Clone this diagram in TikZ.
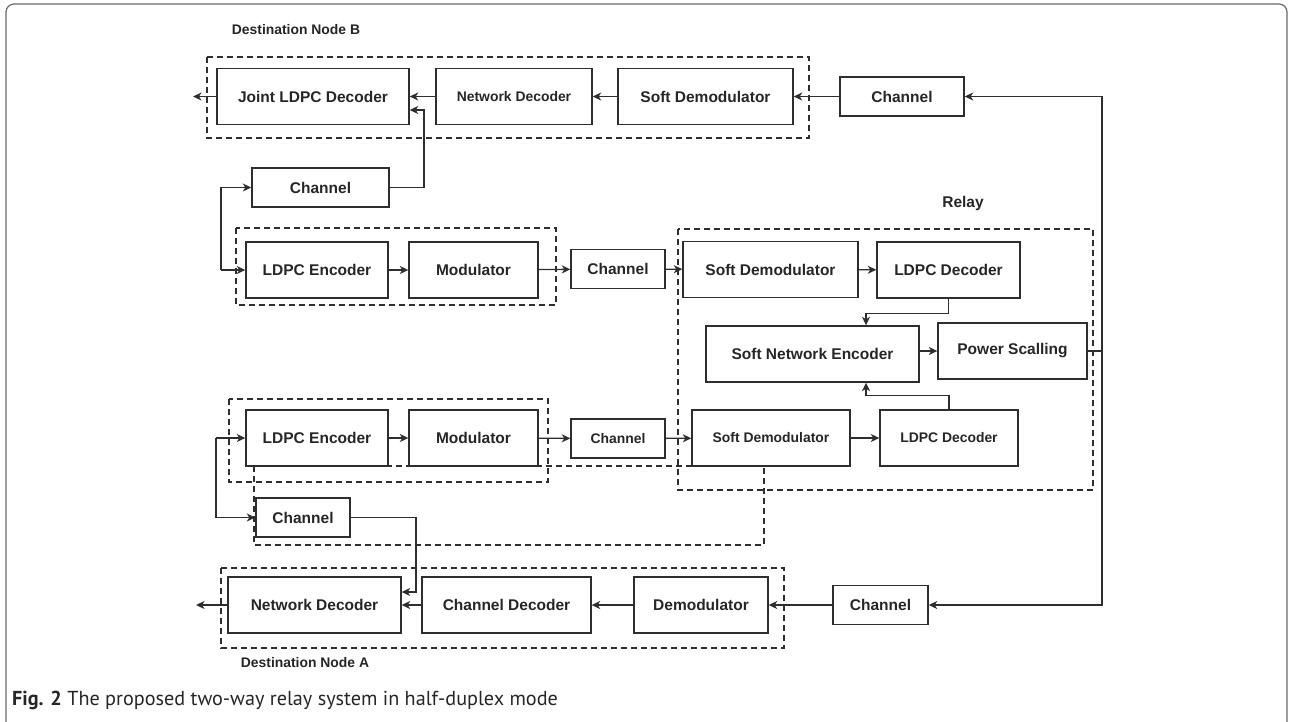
\documentclass[tikz,border=0pt]{standalone}
\usepackage{fontspec}
\setmainfont{Liberation Sans}
\newfontfamily\capfont{PT Sans}
\usetikzlibrary{arrows.meta}
\definecolor{linec}{HTML}{2E2E2E}
\definecolor{txtc}{HTML}{262626}
\definecolor{framec}{HTML}{6A6A6A}
\newcommand\boxfont{\fontsize{15.5}{18}\selectfont\bfseries}
\newcommand\smallboxfont{\fontsize{13.9}{16}\selectfont\bfseries}

\begin{document}
\begin{tikzpicture}[x=1pt,y=-1pt,
    >={Stealth[length=8.5pt,width=8pt,inset=2.5pt]},
    blk/.style={draw=linec,line width=1.4pt,inner sep=0pt,minimum height=56pt,font=\boxfont,text=txtc},
    chn/.style={blk,minimum height=39pt},
    grp/.style={draw=linec,line width=1.2pt,dash pattern=on 6pt off 4pt},
    lbl/.style={font=\smallboxfont,text=txtc,inner sep=0pt},
    wire/.style={draw=linec,line width=1.3pt}]
        \useasboundingbox (0,0) rectangle (1292,721);

        % Outer frame
        \draw[framec,line width=1.2pt,rounded corners=8pt] (6,760) -- (6,4) -- (1287,4) -- (1287,760);

        % Destination node B
        \node[lbl] (labB) at (296,30) {Destination Node B};
        \node[blk,minimum width=192pt] (jld) at (313,96.5) {Joint LDPC Decoder};
        \node[blk,minimum width=156pt,font=\smallboxfont] (ndB) at (514,96.5) {Network Decoder};
        \node[blk,minimum width=175pt] (sdB) at (705.5,96.5) {Soft Demodulator};
        \node[chn,minimum width=124pt] (chB) at (902,96.5) {Channel};
        \draw[grp] (207,57) rectangle (809,138);
        \coordinate (outB) at (193,96.5);
        \draw[wire,->] (chB) -- (sdB);
        \draw[wire,->] (sdB) -- (ndB);
        \draw[wire,->] (ndB) -- (jld);
        \draw[wire,->] (jld) -- (outB);

        % Channel towards node B
        \node[chn,minimum width=137pt] (chS) at (320.5,187.5) {Channel};
        \coordinate (kB) at (424,110);
        \draw[wire,->] (chS.east) -| (kB) -- (kB -| jld.east);

        % Upper source
        \node[blk,minimum width=142pt] (encU) at (317,270) {LDPC Encoder};
        \node[blk,minimum width=129pt] (modU) at (473.5,270) {Modulator};
        \node[chn,minimum width=94pt] (chU) at (618,269) {Channel};
        \draw[grp] (236,228) rectangle (556,305);
        \coordinate (srcU) at (221,270);
        \draw[wire,->] (srcU) |- (chS.west);
        \draw[wire,->] (srcU) -- (encU.west);
        \draw[wire,->] (encU) -- (modU);
        \draw[wire,->] (modU) -- (chU);

        % Relay
        \node[lbl,font=\boxfont] (labR) at (963,203) {Relay};
        \node[blk,minimum width=175pt] (sdR1) at (770.5,269.5) {Soft Demodulator};
        \node[blk,minimum width=143pt] (ldR1) at (948.5,270) {LDPC Decoder};
        \node[blk,minimum width=213pt] (sne) at (812.5,354) {Soft Network Encoder};
        \node[blk,minimum width=149pt] (ps) at (1012.5,351) {Power Scalling};
        \node[blk,minimum width=158pt,font=\smallboxfont] (sdR2) at (771,438) {Soft Demodulator};
        \node[blk,minimum width=138pt,font=\smallboxfont] (ldR2) at (949,438) {LDPC Decoder};
        \draw[grp] (678,229) rectangle (1093,490);
        \draw[wire,->] (chU) -- (sdR1);
        \draw[wire,->] (sdR1) -- (ldR1);
        \draw[wire,->] (ldR1.south) -- ++(0,15) -| ([xshift=53.5pt]sne.north);
        \draw[wire,->] (ldR2.north) -- ++(0,-14) -| ([xshift=53.5pt]sne.south);
        \draw[wire,->] (sne.east |- ps.west) -- (ps.west);
        \draw[wire,->] (sdR2) -- (ldR2);

        % Relay output to both channels
        \coordinate (bus) at (1102,351);
        \draw[wire] (ps.east) -- (bus);
        \draw[wire,->] (bus) |- (chB.east);

        % Lower source
        \node[blk,minimum width=142pt] (encL) at (317,438) {LDPC Encoder};
        \node[blk,minimum width=129pt] (modL) at (473.5,438) {Modulator};
        \node[chn,minimum width=94pt,font=\smallboxfont] (chL) at (618,438.5) {Channel};
        \node[chn,minimum width=94pt] (chS2) at (303,517.5) {Channel};
        \draw[grp] (229,399) rectangle (548,482);
        \draw[grp] (254,466) rectangle (764,545);
        \coordinate (srcL) at (216,438);
        \draw[wire,->] (srcL) -- (encL.west);
        \draw[wire,->] (srcL) |- (chS2.west);
        \draw[wire,->] (encL) -- (modL);
        \draw[wire,->] (modL) -- (chL);
        \draw[wire,->] (chL) -- (sdR2);

        % Destination node A
        \node[blk,minimum width=173pt] (ndA) at (314.5,605) {Network Decoder};
        \node[blk,minimum width=169pt] (cdA) at (506.5,605) {Channel Decoder};
        \node[blk,minimum width=134pt] (dmA) at (701,605) {Demodulator};
        \node[chn,minimum width=95pt] (chA) at (880.5,605) {Channel};
        \node[lbl] (labA) at (305,663) {Destination Node A};
        \draw[grp] (221,568) rectangle (784,648);
        \coordinate (outA) at (196,605);
        \coordinate (kA) at (416,592);
        \draw[wire,->] (bus) |- (chA.east);
        \draw[wire,->] (chA) -- (dmA);
        \draw[wire,->] (dmA) -- (cdA);
        \draw[wire,->] (cdA) -- (ndA);
        \draw[wire,->] (ndA) -- (outA);
        \draw[wire,->] (chS2.east) -| (kA) -- (kA -| ndA.east);

        % Caption
        \node[anchor=base west,inner sep=0pt,font=\capfont\fontsize{20.2}{24}\selectfont,text=txtc] (cap) at (12,705)
            {\textbf{Fig. 2} The proposed two-way relay system in half-duplex mode};
    \end{tikzpicture}
\end{document}
